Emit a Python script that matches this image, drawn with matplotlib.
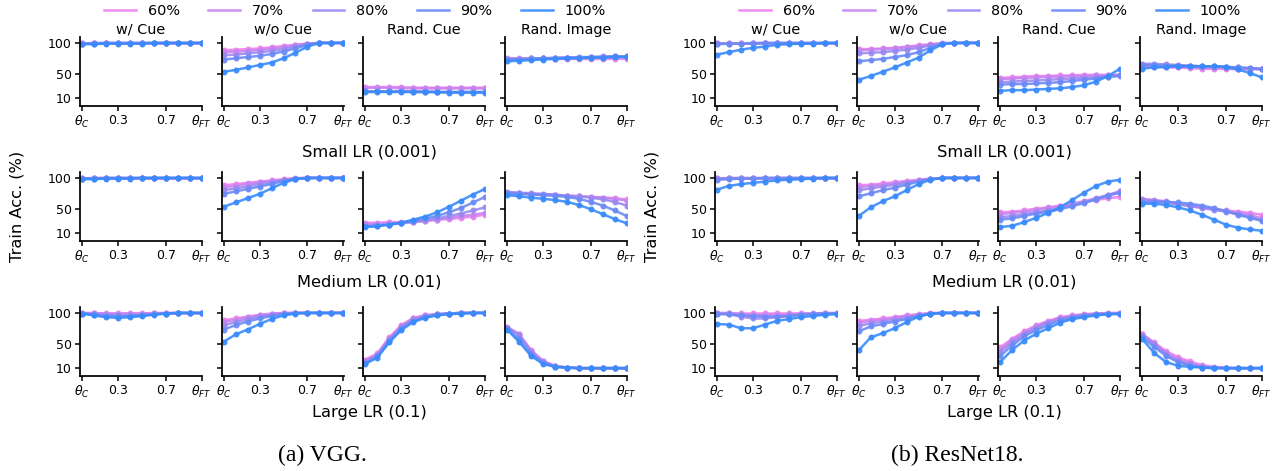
import numpy as np
import matplotlib
matplotlib.use('Agg')
import matplotlib.pyplot as plt

plt.rcParams['font.family'] = ['DejaVu Sans']

# checkpoints theta_C .. theta_FT
x = [0, 0.1, 0.2, 0.3, 0.4, 0.5, 0.6, 0.7, 0.8, 0.9, 1.0]
ratios = ['60%', '70%', '80%', '90%', '100%']
colors = ['#ee82ee', '#c884f0', '#9c88f2', '#6c8af6', '#3a8bfb']
settings = ['w/ Cue', 'w/o Cue', 'Rand. Cue', 'Rand. Image']
lr_names = ['Small LR (0.001)', 'Medium LR (0.01)', 'Large LR (0.1)']
xtick_pos = [0, 0.3, 0.7, 1.0]
xtick_lab = [r'$\theta_C$', '0.3', '0.7', r'$\theta_{FT}$']

# ---------------- VGG ----------------
vgg_small_wcue = [[100, 100, 100, 100, 100, 100, 100, 100, 100, 100, 100],
                  [100, 100, 100, 100, 100, 100, 100, 100, 100, 100, 100],
                  [99, 100, 100, 100, 100, 100, 100, 100, 100, 100, 100],
                  [99, 99, 100, 100, 100, 100, 100, 100, 100, 100, 100],
                  [98, 98, 99, 99, 99, 99, 100, 100, 100, 100, 100]]
vgg_small_wocue = [[88, 89, 90, 91, 93, 95, 97, 99, 100, 100, 100],
                   [85, 86, 87, 89, 91, 93, 96, 99, 100, 100, 100],
                   [80, 81, 83, 85, 87, 90, 94, 98, 100, 100, 100],
                   [73, 75, 77, 79, 82, 86, 91, 97, 100, 100, 100],
                   [53, 56, 60, 64, 68, 75, 84, 94, 100, 100, 100]]
vgg_small_randcue = [[28, 28, 28, 28, 27, 27, 27, 27, 27, 27, 27],
                     [27, 27, 27, 26, 26, 26, 26, 26, 26, 26, 26],
                     [21, 21, 21, 21, 21, 21, 20, 20, 20, 20, 20],
                     [21, 21, 21, 21, 20, 20, 20, 20, 20, 20, 20],
                     [20, 20, 20, 20, 20, 20, 20, 19, 19, 19, 19]]
vgg_small_randimg = [[75, 75, 75, 75, 74, 74, 74, 74, 74, 74, 74],
                     [74, 74, 75, 75, 75, 76, 76, 76, 77, 77, 77],
                     [74, 74, 75, 75, 76, 76, 77, 77, 78, 78, 78],
                     [73, 73, 74, 75, 75, 76, 76, 77, 77, 78, 78],
                     [70, 71, 72, 73, 74, 75, 75, 76, 76, 77, 77]]

vgg_med_wcue = [[100, 100, 100, 100, 100, 100, 100, 100, 100, 100, 100],
                [100, 100, 100, 100, 100, 100, 100, 100, 100, 100, 100],
                [99, 100, 100, 100, 100, 100, 100, 100, 100, 100, 100],
                [99, 99, 100, 100, 100, 100, 100, 100, 100, 100, 100],
                [98, 98, 99, 99, 99, 100, 100, 100, 100, 100, 100]]
vgg_med_wocue = [[88, 90, 92, 94, 96, 98, 100, 100, 100, 100, 100],
                 [85, 87, 90, 93, 95, 97, 99, 100, 100, 100, 100],
                 [80, 83, 86, 90, 93, 96, 99, 100, 100, 100, 100],
                 [74, 78, 82, 86, 90, 95, 99, 100, 100, 100, 100],
                 [53, 60, 67, 74, 83, 92, 98, 100, 100, 100, 100]]
vgg_med_randcue = [[27, 27, 28, 28, 29, 30, 32, 33, 35, 37, 40],
                   [25, 25, 26, 27, 28, 30, 32, 35, 38, 40, 43],
                   [22, 23, 24, 26, 28, 31, 34, 38, 42, 47, 52],
                   [21, 22, 24, 27, 30, 34, 38, 44, 51, 60, 69],
                   [20, 21, 24, 27, 32, 37, 44, 53, 63, 73, 82]]
vgg_med_randimg = [[76, 75, 74, 73, 72, 71, 70, 69, 68, 67, 65],
                   [76, 75, 74, 73, 72, 71, 70, 69, 68, 66, 63],
                   [77, 76, 75, 74, 73, 71, 70, 68, 65, 61, 55],
                   [75, 74, 73, 72, 71, 69, 66, 61, 55, 47, 38],
                   [72, 70, 68, 66, 64, 61, 56, 49, 41, 33, 26]]

vgg_large_wcue = [[100, 100, 100, 100, 100, 100, 100, 100, 100, 100, 100],
                  [100, 100, 99, 99, 99, 99, 100, 100, 100, 100, 100],
                  [99, 98, 97, 96, 96, 97, 98, 99, 100, 100, 100],
                  [99, 97, 95, 95, 95, 96, 98, 99, 100, 100, 100],
                  [99, 96, 93, 92, 93, 95, 97, 99, 100, 100, 100]]
vgg_large_wocue = [[88, 91, 94, 97, 99, 100, 100, 100, 100, 100, 100],
                   [85, 89, 93, 96, 98, 100, 100, 100, 100, 100, 100],
                   [80, 85, 90, 94, 97, 99, 100, 100, 100, 100, 100],
                   [73, 80, 86, 91, 95, 98, 100, 100, 100, 100, 100],
                   [53, 65, 73, 82, 90, 96, 99, 100, 100, 100, 100]]
vgg_large_randcue = [[24, 34, 60, 80, 92, 96, 98, 99, 100, 100, 100],
                     [22, 32, 58, 78, 91, 96, 98, 99, 100, 100, 100],
                     [20, 31, 57, 77, 89, 95, 98, 99, 100, 100, 100],
                     [18, 29, 54, 74, 87, 93, 97, 99, 100, 100, 100],
                     [17, 27, 52, 72, 85, 92, 96, 98, 99, 100, 100]]
vgg_large_randimg = [[76, 65, 40, 22, 14, 11, 10, 10, 10, 10, 10],
                     [77, 66, 38, 21, 13, 11, 10, 10, 10, 10, 10],
                     [76, 64, 37, 20, 13, 11, 10, 10, 10, 10, 10],
                     [74, 57, 33, 19, 12, 11, 10, 10, 10, 10, 10],
                     [73, 53, 30, 17, 12, 11, 10, 10, 10, 10, 10]]

# ---------------- ResNet18 ----------------
res_small_wcue = [[100, 100, 100, 100, 100, 100, 100, 100, 100, 100, 100],
                  [100, 100, 100, 100, 100, 100, 100, 100, 100, 100, 100],
                  [99, 99, 99, 100, 100, 100, 100, 100, 100, 100, 100],
                  [98, 99, 99, 99, 100, 100, 100, 100, 100, 100, 100],
                  [81, 85, 89, 92, 94, 97, 98, 99, 99, 100, 100]]
res_small_wocue = [[90, 90, 91, 92, 94, 96, 98, 100, 100, 100, 100],
                   [88, 89, 90, 91, 93, 95, 97, 99, 100, 100, 100],
                   [83, 84, 85, 87, 89, 92, 96, 99, 100, 100, 100],
                   [70, 72, 74, 77, 80, 85, 92, 98, 100, 100, 100],
                   [40, 46, 53, 60, 68, 76, 88, 98, 100, 100, 100]]
res_small_randcue = [[43, 44, 45, 46, 46, 47, 47, 48, 48, 48, 48],
                     [41, 42, 43, 44, 45, 45, 46, 46, 47, 47, 47],
                     [36, 37, 38, 39, 40, 41, 42, 43, 44, 45, 46],
                     [32, 33, 33, 34, 35, 36, 38, 40, 42, 45, 47],
                     [22, 23, 23, 24, 25, 26, 28, 31, 37, 46, 58]]
res_small_randimg = [[62, 61, 60, 60, 59, 58, 58, 58, 57, 57, 57],
                     [63, 63, 62, 61, 60, 60, 59, 59, 58, 58, 58],
                     [66, 66, 65, 64, 63, 62, 62, 61, 60, 59, 58],
                     [64, 64, 63, 63, 62, 62, 62, 61, 60, 59, 57],
                     [58, 60, 61, 62, 62, 62, 62, 61, 57, 51, 44]]

res_med_wcue = [[100, 100, 100, 100, 100, 100, 100, 100, 100, 100, 100],
                [100, 100, 100, 100, 100, 100, 100, 100, 100, 100, 100],
                [99, 100, 100, 100, 100, 100, 100, 100, 100, 100, 100],
                [97, 98, 99, 99, 100, 100, 100, 100, 100, 100, 100],
                [81, 87, 90, 92, 94, 96, 97, 98, 99, 100, 100]]
res_med_wocue = [[88, 89, 91, 93, 95, 97, 99, 100, 100, 100, 100],
                 [85, 87, 89, 91, 94, 96, 98, 100, 100, 100, 100],
                 [80, 83, 86, 89, 92, 95, 98, 100, 100, 100, 100],
                 [70, 75, 80, 84, 89, 94, 98, 100, 100, 100, 100],
                 [38, 52, 62, 70, 80, 90, 97, 100, 100, 100, 100]]
res_med_randcue = [[44, 45, 47, 50, 52, 55, 58, 61, 64, 67, 69],
                   [41, 43, 45, 48, 51, 54, 58, 62, 67, 72, 78],
                   [36, 38, 41, 44, 47, 51, 55, 60, 66, 72, 78],
                   [32, 34, 38, 42, 45, 49, 54, 59, 65, 71, 76],
                   [20, 22, 28, 35, 43, 52, 64, 76, 87, 94, 97]]
res_med_randimg = [[63, 62, 60, 57, 55, 52, 49, 47, 45, 43, 40],
                   [66, 64, 62, 58, 55, 52, 49, 46, 43, 40, 34],
                   [64, 63, 60, 57, 54, 51, 48, 45, 41, 37, 31],
                   [60, 61, 61, 60, 58, 55, 51, 46, 40, 35, 30],
                   [58, 58, 56, 52, 47, 40, 32, 24, 19, 16, 14]]

res_large_wcue = [[100, 100, 100, 100, 100, 100, 100, 100, 100, 100, 100],
                  [100, 100, 98, 97, 97, 97, 98, 99, 99, 100, 100],
                  [99, 98, 94, 91, 91, 93, 95, 97, 98, 99, 99],
                  [98, 98, 96, 95, 94, 94, 95, 97, 98, 99, 99],
                  [82, 81, 75, 75, 81, 87, 90, 93, 95, 97, 98]]
res_large_wocue = [[87, 89, 91, 93, 96, 98, 100, 100, 100, 100, 100],
                   [84, 87, 89, 92, 95, 97, 99, 100, 100, 100, 100],
                   [79, 83, 86, 89, 92, 96, 99, 100, 100, 100, 100],
                   [70, 78, 82, 86, 90, 95, 98, 100, 100, 100, 100],
                   [39, 60, 67, 75, 85, 94, 99, 100, 100, 100, 100]]
res_large_randcue = [[44, 58, 70, 80, 87, 93, 96, 98, 99, 100, 100],
                     [40, 56, 68, 78, 86, 92, 95, 97, 99, 99, 100],
                     [36, 52, 65, 76, 84, 90, 94, 97, 98, 99, 99],
                     [30, 47, 62, 72, 80, 88, 92, 95, 97, 98, 99],
                     [20, 40, 55, 66, 75, 84, 90, 93, 96, 98, 98]]
res_large_randimg = [[66, 52, 38, 28, 21, 15, 12, 11, 10, 10, 10],
                     [66, 50, 35, 25, 18, 13, 11, 10, 10, 10, 10],
                     [63, 50, 33, 22, 16, 12, 11, 10, 10, 10, 10],
                     [60, 45, 30, 20, 14, 11, 10, 10, 10, 10, 10],
                     [58, 35, 20, 14, 12, 11, 10, 10, 10, 10, 10]]

vgg = [[vgg_small_wcue, vgg_small_wocue, vgg_small_randcue, vgg_small_randimg],
       [vgg_med_wcue, vgg_med_wocue, vgg_med_randcue, vgg_med_randimg],
       [vgg_large_wcue, vgg_large_wocue, vgg_large_randcue, vgg_large_randimg]]
res = [[res_small_wcue, res_small_wocue, res_small_randcue, res_small_randimg],
       [res_med_wcue, res_med_wocue, res_med_randcue, res_med_randimg],
       [res_large_wcue, res_large_wocue, res_large_randcue, res_large_randimg]]

W, H = 1281, 471
fig = plt.figure(figsize=(W / 100, H / 100), dpi=100)


def px_axes(left, top, w, h):
    # pixel box (from top-left) -> figure fraction
    return fig.add_axes([left / W, 1 - (top + h) / H, w / W, h / H])


def draw_group(data, x0, caption):
    col_lefts = [x0, x0 + 141.7, x0 + 283.3, x0 + 425]
    row_tops = [36.5, 171.5, 306.5]
    center_x = x0 + 289
    for r in range(3):
        for c in range(4):
            ax = px_axes(col_lefts[c], row_tops[r], 122, 69)
            for k in range(5):
                ax.plot(x, data[r][c][k], color=colors[k], lw=1.8, marker='o',
                        ms=3.3, alpha=0.9, label=ratios[k])
            ax.set_xlim(-0.017, 1.003)
            ax.set_ylim(-2, 110.5)
            ax.set_xticks(xtick_pos)
            ax.set_xticklabels(xtick_lab)
            ax.set_yticks([10, 50, 100])
            if c > 0:
                ax.set_yticklabels([])
            ax.spines['top'].set_visible(False)
            ax.spines['right'].set_visible(False)
            ax.spines['left'].set_linewidth(1.25)
            ax.spines['bottom'].set_linewidth(1.25)
            ax.tick_params(labelsize=9, length=3.5, width=1.1, pad=2.5)
            if r == 0:
                ax.set_title(settings[c], fontsize=10.4, pad=2)
        fig.text(center_x / W, 1 - [152, 282, 413][r] / H, lr_names[r],
                 ha='center', va='center', fontsize=11.7)
    fig.text((x0 - 63) / W, 1 - 206 / H, 'Train Acc. (%)', rotation=90,
             ha='center', va='center', fontsize=11.7)
    fig.text((x0 + 242) / W, 1 - 455 / H, caption, ha='center', va='center',
             fontsize=17, family='Liberation Serif')
    handles = [plt.Line2D([], [], color=colors[k], lw=1.8, alpha=0.9) for k in range(5)]
    fig.legend(handles, ratios, loc='center', ncol=5, frameon=False,
               bbox_to_anchor=((x0 + 275) / W, 1 - 11 / H), fontsize=10.4,
               handlelength=2.2, columnspacing=2.0, borderpad=0)


draw_group(vgg, 80, '(a) VGG.')
draw_group(res, 715, '(b) ResNet18.')

fig.savefig('out.png', dpi=100)
